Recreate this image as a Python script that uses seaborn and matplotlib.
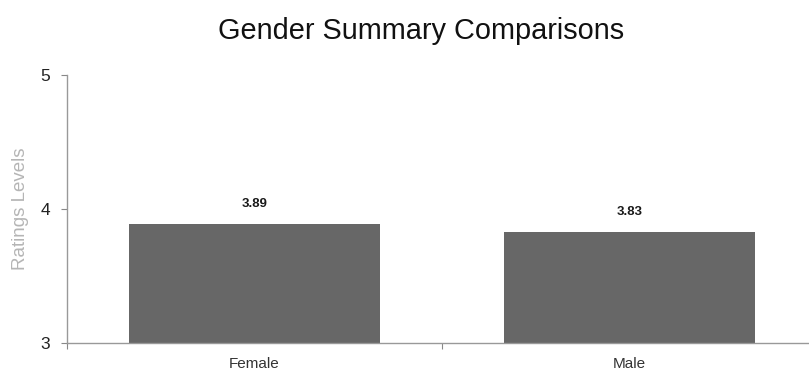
import matplotlib
matplotlib.use("Agg")
import matplotlib.pyplot as plt
import seaborn as sns
import pandas as pd
from matplotlib.ticker import FixedLocator

# Summary ratings by gender
genders = ["Female", "Male"]
ratings = [3.89, 3.83]
y_ticks = [3, 4, 5]

df = pd.DataFrame({"Gender": genders, "Rating": ratings})

sns.set_theme(style="white")
plt.rcParams["font.family"] = ["Liberation Sans", "DejaVu Sans"]

fig = plt.figure(figsize=(8.09, 3.83), dpi=100)
# axes runs slightly past the right edge of the figure
ax = fig.add_axes([67 / 809, 1 - 343 / 383, (817 - 67) / 809, (343 - 75) / 383])

sns.barplot(data=df, x="Gender", y="Rating", ax=ax, color="#676767",
            saturation=1, width=0.67, edgecolor="none")

ax.set_ylim(3, 5)
ax.set_xlim(-0.5, 1.5)
ax.set_yticks(y_ticks)
ax.set_yticklabels([str(t) for t in y_ticks], fontsize=12.5, color="#222222")
ax.tick_params(axis="y", length=4, width=0.8, color="#888888", pad=8, left=True)
ax.tick_params(axis="x", which="major", length=0, pad=10, labelsize=11,
               labelcolor="#333333")
ax.xaxis.set_minor_locator(FixedLocator([-0.5, 0.5, 1.5]))
ax.tick_params(axis="x", which="minor", length=4, width=0.8, color="#888888",
               bottom=True)

for side in ("top", "right"):
    ax.spines[side].set_visible(False)
for side in ("left", "bottom"):
    ax.spines[side].set_color("#999999")
    ax.spines[side].set_linewidth(1.0)

ax.set_xlabel("")
ax.set_ylabel("Ratings Levels", fontsize=13.5, color="#b5b5b5", labelpad=8)

for i, v in enumerate(ratings):
    ax.annotate(f"{v:.2f}", xy=(i, v), xytext=(0, 10), textcoords="offset points",
                ha="center", va="bottom", fontsize=9.5, fontweight="bold",
                color="#1a1a1a")

fig.text(421 / 809, 1 - 31 / 383, "Gender Summary Comparisons", ha="center",
         va="center", fontsize=20.8, color="#111111")

fig.savefig("out.png", dpi=100)
